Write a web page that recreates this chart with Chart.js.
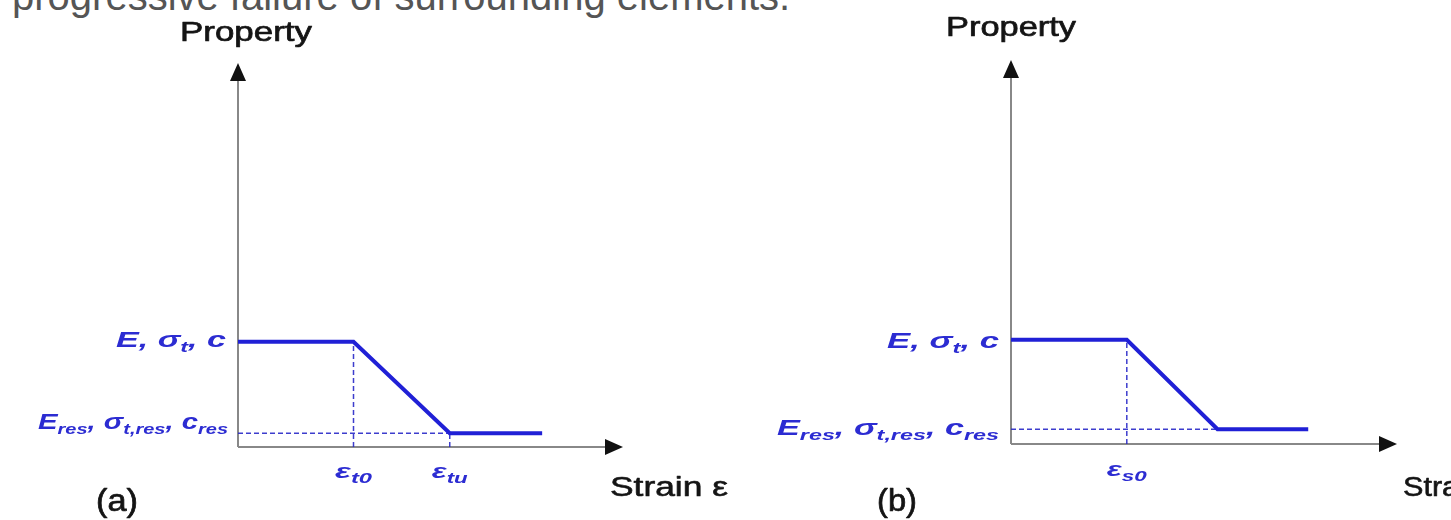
<!DOCTYPE html>
<html>
<head>
<meta charset="utf-8">
<script src="https://cdn.jsdelivr.net/npm/chart.js@4.4.1/dist/chart.umd.min.js"></script>
<style>
  html, body { margin: 0; padding: 0; background: #fff; width: 1451px; height: 520px; overflow: hidden; }
  #caption { position: absolute; left: 12px; top: -24px; font: 40px "Liberation Sans", Arial, sans-serif;
             color: #555; line-height: 40px; white-space: nowrap; }
  .panel { position: absolute; top: 0; height: 520px; }
  .panel canvas { filter: blur(0.6px); }
  #wa { left: 0; width: 780px; }
  #wb { left: 725px; width: 726px; }
</style>
</head>
<body>
<div id="caption">progressive failure of surrounding elements.</div>
<div class="panel" id="wa"><canvas id="ca" width="780" height="520"></canvas></div>
<div class="panel" id="wb"><canvas id="cb" width="726" height="520"></canvas></div>
<script>
// ---- (a) tensile softening: property vs. strain ----
const strainA   = [0, 3, 5.5, 7.9];
const propertyA = [1, 1, 0.13, 0.13];
const tickStrainA = [3, 5.5];
const tickLabelA  = [[['ε'], ['t0', 1]], [['ε'], ['tu', 1]]];

// ---- (b) shear softening: property vs. strain ----
const strainB   = [0, 3, 5.35, 7.7];
const propertyB = [0.99, 0.99, 0.14, 0.14];
const tickStrainB = [3];
const tickLabelB  = [[['ε'], ['s0', 1]]];

// shared axis extents (arrow tips)
const strainMax = 10;
const propertyMax = 3.65;

// property labels on the vertical axis: [text, subscript?]
const peakLabel = [['E, σ'], ['t', 1], [', c']];
const resLabel  = [['E'], ['res', 1], [', σ'], ['t,res', 1], [', c'], ['res', 1]];

const BLUE = '#2020d6';
const LABEL_BLUE = '#2c2cd2';
const INK = '#141414';
const FAMILY = '"Liberation Sans", Arial, Helvetica, sans-serif';

// draws a run of text pieces (with optional subscripts), fitted to a width
function drawRich(ctx, segs, x, y, o) {
  const st = (o.italic ? 'italic ' : '') + (o.bold ? 'bold ' : '');
  const mainFont = st + o.size + 'px ' + FAMILY;
  const subFont = st + (o.subSize || Math.round(o.size * 0.66)) + 'px ' + FAMILY;
  let nat = 0;
  const parts = segs.map(s => {
    ctx.font = s[1] ? subFont : mainFont;
    const w = ctx.measureText(s[0]).width;
    nat += w;
    return { t: s[0], sub: !!s[1], w };
  });
  const sx = o.width ? o.width / nat : 1;
  const total = nat * sx;
  const x0 = o.align === 'right' ? x - total : o.align === 'center' ? x - total / 2 : x;
  ctx.save();
  ctx.fillStyle = o.color;
  ctx.strokeStyle = o.color;
  ctx.lineWidth = o.stroke || 0;
  ctx.lineJoin = 'round';
  ctx.textAlign = 'left';
  ctx.textBaseline = 'alphabetic';
  ctx.translate(x0, y);
  ctx.scale(sx, 1);
  let cx = 0;
  for (const p of parts) {
    ctx.font = p.sub ? subFont : mainFont;
    const dy = p.sub ? (o.subDy || 5) : 0;
    ctx.fillText(p.t, cx, dy);
    if (o.stroke) ctx.strokeText(p.t, cx, dy);
    cx += p.w;
  }
  ctx.restore();
}

// axes with arrow heads, drawn under the curves
const axesPlugin = {
  id: 'arrowAxes',
  beforeDatasetsDraw(chart) {
    const { ctx, scales: { x, y } } = chart;
    const x0 = x.getPixelForValue(0), y0 = y.getPixelForValue(0);
    const xEnd = x.getPixelForValue(strainMax), yEnd = y.getPixelForValue(propertyMax);
    const L = 18, H = 8;
    ctx.save();
    ctx.strokeStyle = '#888';
    ctx.lineWidth = 2;
    ctx.beginPath();
    ctx.moveTo(x0, y0); ctx.lineTo(xEnd - L + 2, y0);
    ctx.moveTo(x0, y0); ctx.lineTo(x0, yEnd + L - 2);
    ctx.stroke();
    ctx.fillStyle = '#111';
    ctx.beginPath();
    ctx.moveTo(xEnd, y0); ctx.lineTo(xEnd - L, y0 - H); ctx.lineTo(xEnd - L, y0 + H); ctx.closePath();
    ctx.moveTo(x0, yEnd); ctx.lineTo(x0 - H, yEnd + L); ctx.lineTo(x0 + H, yEnd + L); ctx.closePath();
    ctx.fill();
    ctx.restore();
  }
};

// axis titles, property labels and strain tick labels
const labelPlugin = {
  id: 'panelLabels',
  afterDraw(chart) {
    const { ctx, scales: { x, y } } = chart;
    const c = chart.options.plugins.panelLabels;
    const left = x.getPixelForValue(0), right = x.getPixelForValue(strainMax);
    const bottom = y.getPixelForValue(0), top = y.getPixelForValue(propertyMax);
    const yPeak = y.getPixelForValue(c.prop[1]);
    const yRes = y.getPixelForValue(c.prop[2]);

    drawRich(ctx, [['Property']], left + c.titleDx, top + c.titleDy,
      { size: 28, color: INK, align: 'center', width: c.titleW, stroke: 0.7 });

    drawRich(ctx, peakLabel, left - c.peakGap, yPeak + c.peakDy,
      { size: 22, subSize: 15, italic: true, bold: true, color: LABEL_BLUE, align: 'right', width: c.peakW });
    drawRich(ctx, resLabel, left - c.resGap, yRes + c.resDy,
      { size: 22, subSize: 15, italic: true, bold: true, color: LABEL_BLUE, align: 'right', width: c.resW });

    c.ticks.forEach((v, i) => {
      drawRich(ctx, c.tickLabels[i], x.getPixelForValue(v), bottom + c.tickDy,
        { size: 21, subSize: 15, italic: true, bold: true, color: LABEL_BLUE, align: 'center',
          width: c.tickW[i], subDy: 5 });
    });

    drawRich(ctx, [['Strain '], ['ε']], right + c.strainDx, bottom + c.strainDy,
      { size: 27, color: INK, align: 'left', width: c.strainW, stroke: 0.6 });

    drawRich(ctx, [[c.tag]], c.tagX, c.tagY,
      { size: 31, color: INK, align: 'center', width: c.tagW, stroke: 0.7 });
  }
};

function buildPanel(canvasId, strain, prop, ticks, tickLabels, pad, lab) {
  const curve = strain.map((s, i) => ({ x: s, y: prop[i] }));
  const guide = { borderColor: 'rgba(40,40,200,0.9)', borderWidth: 1.5, borderDash: [5, 3],
                  pointRadius: 0, fill: false, clip: false, order: 2 };
  const guides = ticks.map(t => {
    const i = strain.indexOf(t);
    return Object.assign({ data: [{ x: t, y: 0 }, { x: t, y: prop[i] }] }, guide);
  });
  // residual level guide, from the property axis to the end of softening
  guides.push(Object.assign({ data: [{ x: 0, y: prop[2] }, { x: strain[2], y: prop[2] }] }, guide));

  return new Chart(document.getElementById(canvasId), {
    type: 'line',
    data: {
      datasets: [
        { data: curve, borderColor: BLUE, borderWidth: 4, pointRadius: 0, fill: false,
          tension: 0, clip: false, order: 1, borderJoinStyle: 'miter' },
        ...guides
      ]
    },
    options: {
      responsive: false,
      animation: false,
      events: [],
      layout: { padding: pad },
      plugins: {
        legend: { display: false },
        tooltip: { enabled: false },
        panelLabels: Object.assign({ prop, ticks, tickLabels }, lab)
      },
      scales: {
        x: { type: 'linear', min: 0, max: strainMax, display: false },
        y: { type: 'linear', min: 0, max: propertyMax, display: false }
      }
    },
    plugins: [axesPlugin, labelPlugin]
  });
}

buildPanel('ca', strainA, propertyA, tickStrainA, tickLabelA,
  { left: 238, right: 157, top: 63, bottom: 73 },
  { titleDx: 8, titleDy: -22, titleW: 132,
    peakGap: 12, peakDy: 5, peakW: 110,
    resGap: 10, resDy: -4, resW: 190,
    tickDy: 31, tickW: [37, 36],
    strainDx: -13, strainDy: 49, strainW: 118,
    tag: '(a)', tagX: 117, tagY: 511, tagW: 42 });

buildPanel('cb', strainB, propertyB, tickStrainB, tickLabelB,
  { left: 286, right: 54, top: 60, bottom: 76 },
  { titleDx: 0, titleDy: -24, titleW: 130,
    peakGap: 12, peakDy: 8, peakW: 112,
    resGap: 12, resDy: 6, resW: 222,
    tickDy: 32, tickW: [40],
    strainDx: 6, strainDy: 52, strainW: 102,
    tag: '(b)', tagX: 897 - 725, tagY: 511, tagW: 40 });
</script>
</body>
</html>
